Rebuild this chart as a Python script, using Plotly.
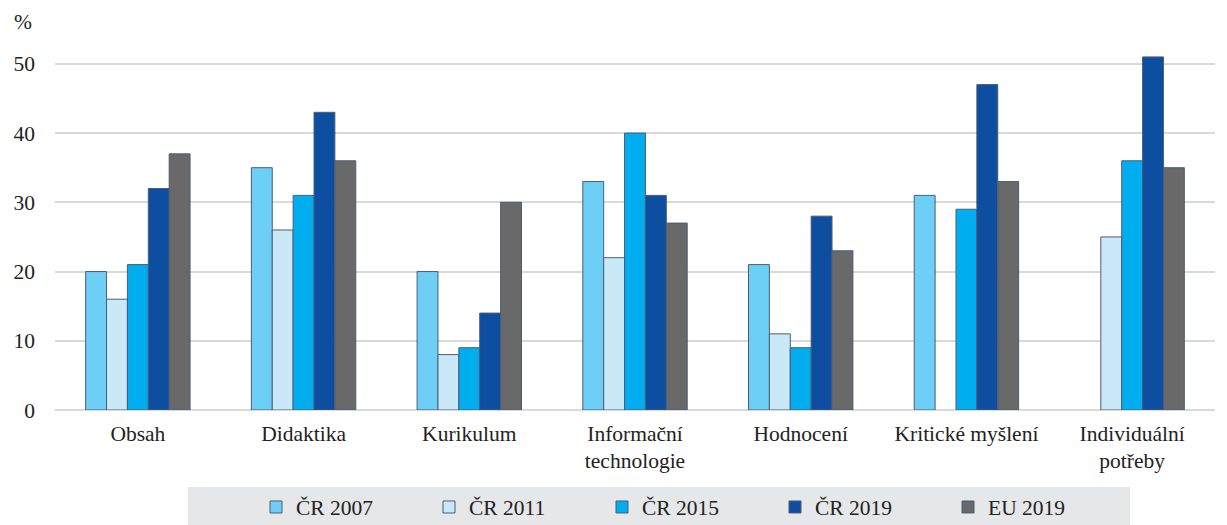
import plotly.graph_objects as go

categories = ["Obsah", "Didaktika", "Kurikulum", "Informační<br>technologie",
              "Hodnocení", "Kritické myšlení", "Individuální<br>potřeby"]
series_names = ["ČR 2007", "ČR 2011", "ČR 2015", "ČR 2019", "EU 2019"]
cr2007 = [20, 35, 20, 33, 21, 31, None]
cr2011 = [16, 26, 8, 22, 11, None, 25]
cr2015 = [21, 31, 9, 40, 9, 29, 36]
cr2019 = [32, 43, 14, 31, 28, 47, 51]
eu2019 = [37, 36, 30, 27, 23, 33, 35]
colors = ["#6dcff6", "#c9e9f8", "#00adee", "#0d4ea1", "#696969"]

fig = go.Figure()
for name, vals, col in zip(series_names, [cr2007, cr2011, cr2015, cr2019, eu2019], colors):
    fig.add_trace(go.Bar(
        x=categories, y=vals, name=name,
        marker=dict(color=col, line=dict(color="#4a5d78", width=1)),
    ))

font = "Liberation Serif"
FS = 21.5
# page body has an 8px margin, so the figure is drawn 8px in from the top-left
OFF = 8
W, H = 1227 - OFF, 525 - OFF
L, R, T, B = 55 - OFF, 12, 50 - OFF, 115
PW, PH = W - L - R, H - T - B
fig.update_layout(
    width=W, height=H,
    margin=dict(l=L, r=R, t=T, b=B, autoexpand=False),
    barmode="group", bargap=0.37, bargroupgap=0,
    plot_bgcolor="white", paper_bgcolor="white",
    font=dict(family=font, size=FS, color="#222222"),
    showlegend=True,
    legend=dict(
        orientation="h", xref="container", yref="container",
        x=(276 - OFF - 20) / W, xanchor="left", y=(525 - 507) / H, yanchor="middle",
        bgcolor="rgba(0,0,0,0)", borderwidth=0,
        entrywidth=128, entrywidthmode="pixels", itemwidth=30,
        font=dict(family=font, size=FS, color="#222222"),
        traceorder="normal",
    ),
    xaxis=dict(showgrid=False, showline=False, ticks="", automargin=False,
               ticklabelstandoff=8, tickfont=dict(family=font, size=FS)),
    yaxis=dict(range=[0, 52], tickvals=[0, 10, 20, 30, 40, 50], showgrid=True,
               gridcolor="#d9d9d9", gridwidth=1.5, zeroline=True,
               zerolinecolor="#d9d9d9", zerolinewidth=1.5, showline=False,
               ticks="", automargin=False, ticklabelstandoff=19,
               tickfont=dict(family=font, size=FS)),
    shapes=[dict(type="rect", xref="paper", yref="paper", layer="below",
                 x0=(188 - 55) / PW, x1=(1130 - 55) / PW,
                 y0=-(B + 5) / PH, y1=-(487 - 410) / PH,
                 fillcolor="#e6e7e8", line=dict(width=0))],
    annotations=[dict(text="%", xref="paper", yref="paper", x=-(55 - 12) / PW, y=1 + 28 / PH,
                      xanchor="left", yanchor="middle", showarrow=False,
                      font=dict(family=font, size=FS, color="#222222"))],
)

fig.write_html("out.html")
